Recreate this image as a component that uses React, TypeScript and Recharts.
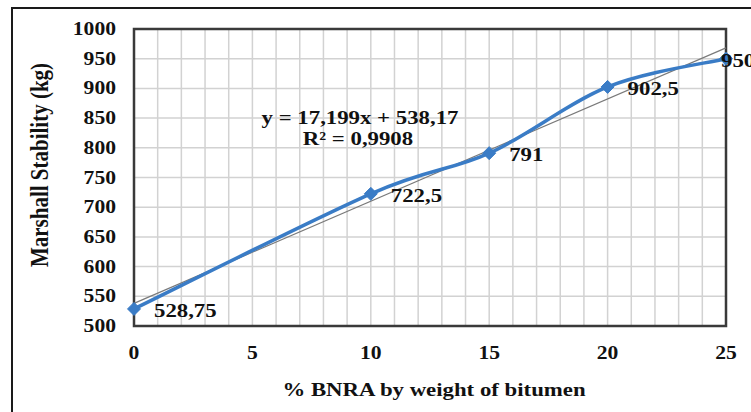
import React from "react";
import {
  ComposedChart,
  Line,
  XAxis,
  YAxis,
  CartesianGrid,
  ReferenceArea,
  LabelList,
} from "recharts";

// ---- data ----
const xValues = [0, 10, 15, 20, 25];
const stability = [528.75, 722.5, 791, 902.5, 950];
const pointLabels = ["528,75", "722,5", "791", "902,5", "950"];
const trendX = [0, 25];
const trendY = [538.17, 968.17];
const yTicks = [500, 550, 600, 650, 700, 750, 800, 850, 900, 950, 1000];
const xGridTicks = [0, 1, 2, 3, 4, 5, 6, 7, 8, 9, 10, 11, 12, 13, 14, 15, 16, 17, 18, 19, 20, 21, 22, 23, 24, 25];
const xLabelTicks = [0, 5, 10, 15, 20, 25];
const equationLine1 = "y = 17,199x + 538,17";
const equationLine2 = "R² = 0,9908";
const xTitle = "% BNRA by weight of bitumen";
const yTitle = "Marshall Stability (kg)";

const mainData = xValues.map((x, i) => ({ x, y: stability[i], label: pointLabels[i] }));
const trendData = trendX.map((x, i) => ({ x, y: trendY[i] }));

const FONT = "'Liberation Serif', 'Times New Roman', serif";
const SX = 1.2;
const BLUE = "#3a7cc6";

// Excel-like smoothed line (Bezier through the points, 1/6 tangents)
function excelSmooth(context: any) {
  let pts: number[][] = [];
  return {
    areaStart() {},
    areaEnd() {},
    lineStart() {
      pts = [];
    },
    point(x: number, y: number) {
      pts.push([+x, +y]);
    },
    lineEnd() {
      const n = pts.length;
      if (!n) return;
      context.moveTo(pts[0][0], pts[0][1]);
      for (let i = 0; i < n - 1; i++) {
        const p0 = pts[i - 1] || pts[i];
        const p1 = pts[i];
        const p2 = pts[i + 1];
        const p3 = pts[i + 2] || pts[i + 1];
        context.bezierCurveTo(
          p1[0] + (p2[0] - p0[0]) / 6,
          p1[1] + (p2[1] - p0[1]) / 6,
          p2[0] - (p3[0] - p1[0]) / 6,
          p2[1] - (p3[1] - p1[1]) / 6,
          p2[0],
          p2[1]
        );
      }
    },
  };
}

function SText({ x, y, size, anchor = "start", children }: any) {
  return (
    <text
      transform={`translate(${x},${y}) scale(${SX},1)`}
      x={0}
      y={0}
      textAnchor={anchor}
      fontFamily={FONT}
      fontWeight="bold"
      fontSize={size}
      fill="#111"
    >
      {children}
    </text>
  );
}

function YTick(props: any) {
  const { x, y, payload } = props;
  return <SText x={x - 18} y={y + 6} size={18} anchor="end">{payload.value}</SText>;
}

function XTick(props: any) {
  const { x, y, payload } = props;
  if (!xLabelTicks.includes(payload.value)) return <g />;
  return <SText x={x} y={y + 33} size={18} anchor="middle">{payload.value}</SText>;
}

function Diamond(props: any) {
  const { cx, cy } = props;
  if (cx == null || cy == null) return <g />;
  const r = 6.5;
  return (
    <polygon
      points={`${cx},${cy - r} ${cx + r},${cy} ${cx},${cy + r} ${cx - r},${cy}`}
      fill={BLUE}
      stroke={BLUE}
      strokeWidth={1}
    />
  );
}

function PointLabel(props: any) {
  const { x, y, value, index } = props;
  const dx = index === xValues.length - 1 ? -5 : 20;
  return <SText x={x + dx} y={y + 8} size={19}>{value}</SText>;
}

export default function App() {
  return (
    <div
      style={{
        position: "absolute",
        left: 0,
        top: 0,
        width: 751,
        height: 412,
        overflow: "hidden",
        background: "#fff",
      }}
    >
      <div
        style={{
          position: "absolute",
          left: 11,
          top: 7,
          width: 900,
          height: 600,
          border: "2px solid #1a1a1a",
        }}
      />
      <div style={{ position: "absolute", left: 0, top: 0 }}>
        <ComposedChart
          width={751}
          height={412}
          margin={{ top: 29, right: 25, bottom: 56, left: 0 }}
        >
          <CartesianGrid stroke="#d2d2d2" strokeWidth={1.5} />
          <XAxis
            type="number"
            dataKey="x"
            domain={[0, 25]}
            ticks={xGridTicks}
            interval={0}
            height={30}
            axisLine={false}
            tickLine={false}
            tickSize={0}
            tickMargin={0}
            tick={<XTick />}
          />
          <YAxis
            type="number"
            domain={[500, 1000]}
            ticks={yTicks}
            interval={0}
            width={134}
            axisLine={false}
            tickLine={false}
            tickSize={0}
            tickMargin={0}
            tick={<YTick />}
          />
          <ReferenceArea
            x1={0}
            x2={25}
            y1={500}
            y2={1000}
            fill="none"
            fillOpacity={0}
            stroke="#3a3a3a"
            strokeWidth={2.5}
            ifOverflow="visible"
          />
          <Line
            data={trendData}
            dataKey="y"
            type="linear"
            stroke="#7a7a7a"
            strokeWidth={1.2}
            dot={false}
            activeDot={false}
            isAnimationActive={false}
          />
          <Line
            data={mainData}
            dataKey="y"
            type={excelSmooth as any}
            stroke={BLUE}
            strokeWidth={3.5}
            dot={<Diamond />}
            activeDot={false}
            isAnimationActive={false}
          >
            <LabelList dataKey="label" content={<PointLabel />} />
          </Line>
        </ComposedChart>
      </div>
      <svg
        width={751}
        height={412}
        style={{ position: "absolute", left: 0, top: 0, pointerEvents: "none" }}
      >
        <SText x={360} y={124} size={19} anchor="middle">{equationLine1}</SText>
        <SText x={358} y={145} size={19} anchor="middle">{equationLine2}</SText>
        <SText x={434} y={396} size={19} anchor="middle">{xTitle}</SText>
        <text
          transform={`translate(48,165) scale(${SX},1) rotate(-90)`}
          textAnchor="middle"
          fontFamily={FONT}
          fontWeight="bold"
          fontSize={21}
          fill="#111"
        >
          {yTitle}
        </text>
      </svg>
    </div>
  );
}
